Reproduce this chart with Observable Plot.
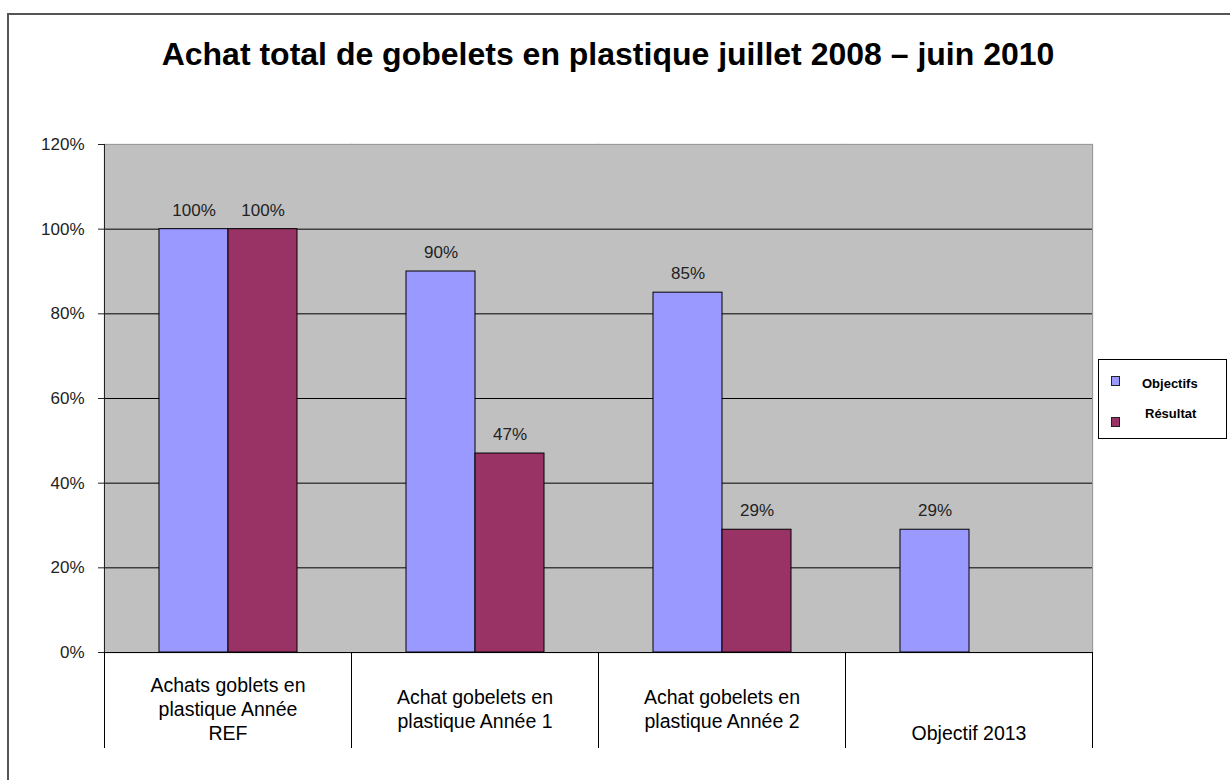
<!DOCTYPE html>
<html>
<head>
<meta charset="utf-8">
<script src="https://cdn.jsdelivr.net/npm/d3@7"></script>
<script src="https://cdn.jsdelivr.net/npm/@observablehq/plot@0.6"></script>
<style>
  html, body { margin: 0; padding: 0; background: #fff; overflow: hidden; }
  #wrap { position: relative; width: 1230px; height: 780px; overflow: hidden; font-family: "Liberation Sans", Arial, sans-serif; }
  #border { position: absolute; left: 7px; top: 13px; width: 1400px; height: 1000px; border: 2px solid #555; box-sizing: border-box; }
  #title { position: absolute; left: 0; width: 1216px; top: 38px; text-align: center; font-weight: bold; font-size: 32px; line-height: 1; color: #000; white-space: nowrap; }
  #chart { position: absolute; left: 0; top: 0; }
  #legend { position: absolute; left: 1098px; top: 359px; width: 129px; height: 80px; border: 1px solid #000; box-sizing: border-box; background: #fff; }
  .li { position: absolute; font-weight: bold; font-size: 13px; color: #000; line-height: 1; white-space: nowrap; }
  .sw { position: absolute; width: 7px; height: 8px; border: 1px solid #222; }
</style>
</head>
<body>
<div id="wrap">
  <div id="border"></div>
  <div id="title">Achat total de gobelets en plastique juillet 2008 – juin 2010</div>
  <div id="chart"></div>
  <div id="legend"></div>
</div>
<script>
// ---- data ----
const categories = ["Année REF", "Année 1", "Année 2", "Objectif 2013"];
const categoryLabels = [
  "Achats goblets en\nplastique Année\nREF",
  "Achat gobelets en\nplastique Année 1",
  "Achat gobelets en\nplastique Année 2",
  "\u00a0\n\u00a0\nObjectif 2013"
];
const series = ["Objectifs", "Résultat"];
const objectifs = [100, 90, 85, 29];
const resultat = [100, 47, 29, null];
const yTicks = [0, 20, 40, 60, 80, 100, 120];
const colors = ["#9999ff", "#993366"];

// ---- table ----
const data = [];
categories.forEach((c, i) => {
  if (objectifs[i] != null) data.push({cat: c, series: series[0], value: objectifs[i]});
  if (resultat[i] != null) data.push({cat: c, series: series[1], value: resultat[i]});
});
const labels = categories.map((c, i) => ({cat: c, label: categoryLabels[i]}));

const W = 1230, H = 780, mL = 103, mR = 137, mT = 144, mB = 128;
const plotH = H - mT - mB;

const chart = Plot.plot({
  width: W, height: H,
  marginLeft: mL, marginRight: mR, marginTop: mT, marginBottom: mB,
  style: {background: "transparent", fontFamily: "'Liberation Sans', Arial, sans-serif", overflow: "visible"},
  fx: {domain: categories, padding: 0, axis: null},
  x: {domain: series, paddingInner: 0, paddingOuter: 0.78, axis: null},
  y: {domain: [0, 120], axis: null},
  color: {domain: series, range: colors},
  marks: [
    Plot.frame({fill: "#c0c0c0", stroke: "#c0c0c0", strokeWidth: 1.5}),
    Plot.ruleY([120], {stroke: "#9a9a9a"}),
    Plot.ruleY(yTicks.filter(d => d > 0 && d < 120), {stroke: "#000", strokeWidth: 1}),
    Plot.barY(data, {fx: "cat", x: "series", y: "value", fill: "series", stroke: "#000", strokeWidth: 1}),
    Plot.text(data, {fx: "cat", x: "series", y: "value", text: d => d.value + "%", dy: -19, lineAnchor: "middle", fontSize: 17, fill: "#222"}),
    Plot.ruleY([0], {stroke: "#000", strokeWidth: 1}),
    Plot.axisY({ticks: yTicks, tickSize: 6, tickPadding: 14, tickFormat: d => d + "%", fontSize: 17, color: "#222", label: null}),
    Plot.frame({anchor: "left", facetAnchor: "left", stroke: "#222"}),
    Plot.frame({anchor: "right", facetAnchor: "right", stroke: "#9a9a9a"}),
    Plot.frame({anchor: "left", insetTop: plotH, insetBottom: -95, stroke: "#000"}),
    Plot.frame({anchor: "right", insetTop: plotH, insetBottom: -95, stroke: "#000"}),
    Plot.text(labels, {fx: "cat", text: "label", frameAnchor: "bottom", dy: 56, lineAnchor: "middle", lineHeight: 1.23, fontSize: 19.5, fill: "#000"})
  ]
});
document.getElementById("chart").appendChild(chart);

// ---- legend ----
const legend = document.getElementById("legend");
const swTop = [16, 57], txTop = [17, 47], txLeft = [43, 46];
series.forEach((s, i) => {
  const sw = document.createElement("div");
  sw.className = "sw";
  sw.style.left = "12px";
  sw.style.top = swTop[i] + "px";
  sw.style.background = colors[i];
  legend.appendChild(sw);
  const t = document.createElement("div");
  t.className = "li";
  t.style.left = txLeft[i] + "px";
  t.style.top = txTop[i] + "px";
  t.textContent = s;
  legend.appendChild(t);
});
</script>
</body>
</html>
